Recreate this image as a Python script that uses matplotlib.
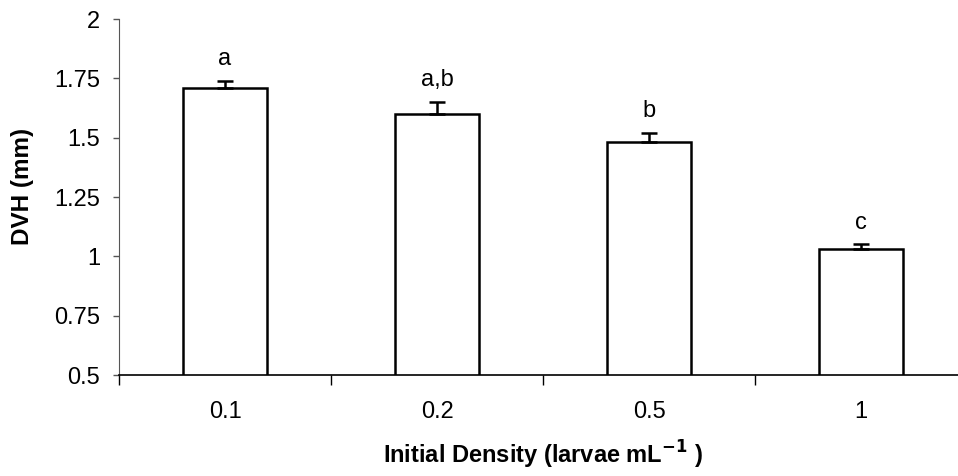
import matplotlib
matplotlib.use('Agg')
import matplotlib.pyplot as plt
import numpy as np

plt.rcParams['font.family'] = ['Liberation Sans', 'DejaVu Sans']

# mean DVH per initial stocking density, with SE and significance letters
densities = ['0.1', '0.2', '0.5', '1']
dvh = [1.71, 1.60, 1.48, 1.03]
dvh_se = [0.03, 0.05, 0.04, 0.02]
letters = ['a', 'a,b', 'b', 'c']

fig = plt.figure(figsize=(9.58, 4.76), dpi=100)
ax = fig.add_axes([119/958, 101/476, 848/958, 356/476])

x = np.arange(len(densities))
ax.bar(x, dvh, width=0.4, bottom=0, color='white', edgecolor='black', linewidth=1.8, zorder=2)
ax.errorbar(x, dvh, yerr=[np.zeros(len(dvh)), dvh_se], fmt='none', ecolor='black',
            elinewidth=1.8, capsize=6, capthick=1.8, zorder=3)

for xi, v, e, lab in zip(x, dvh, dvh_se, letters):
    ax.text(xi, v + e + 0.045, lab, ha='center', va='bottom', fontsize=17)

ax.set_xlim(-0.5, 3.5)
ax.set_ylim(0.5, 2)
ax.set_yticks([0.5, 0.75, 1, 1.25, 1.5, 1.75, 2])
ax.set_yticklabels(['0.5', '0.75', '1', '1.25', '1.5', '1.75', '2'])
ax.set_xticks(x)
ax.set_xticklabels(densities)
ax.set_xticks(np.arange(-0.5, 3.5, 1), minor=True)
ax.tick_params(axis='x', which='major', length=0, pad=19, labelsize=17)
ax.tick_params(axis='x', which='minor', length=7, width=1, color='black')
ax.tick_params(axis='y', length=4.5, width=1, labelsize=17, pad=9, color='#555555')

ax.spines['right'].set_visible(False)
ax.spines['top'].set_visible(False)
ax.spines['left'].set_color('#555555')
ax.spines['bottom'].set_linewidth(1.2)

ax.set_ylabel('DVH (mm)', fontsize=17.5, fontweight='bold')
ax.yaxis.set_label_coords(-0.1, 0.53)
ax.set_xlabel('Initial Density (larvae mL$^{\\mathbf{-1}}$ )', fontsize=17, fontweight='bold', labelpad=11)

fig.savefig('out.png', dpi=100)
